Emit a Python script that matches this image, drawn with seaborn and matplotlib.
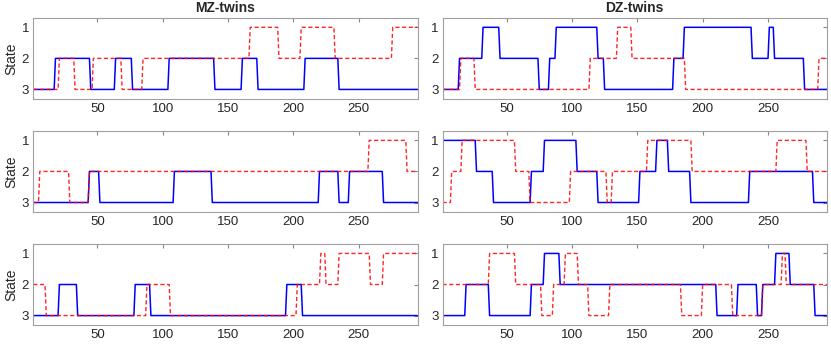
import numpy as np
import pandas as pd
import seaborn as sns
import matplotlib.pyplot as plt

T_END = 295

# change points (time where state starts) and states
# MZ pair 1
mz1_blue_t = [1, 18, 45, 64, 77, 105, 140, 161, 173, 209, 235]
mz1_blue_s = [3, 2, 3, 2, 3, 2, 3, 2, 3, 2, 3]
mz1_red_t = [1, 21, 33, 47, 69, 85, 167, 189, 206, 232, 276]
mz1_red_s = [3, 2, 3, 2, 3, 2, 1, 2, 1, 2, 1]
# MZ pair 2
mz2_blue_t = [1, 44, 52, 109, 138, 220, 235, 243, 269]
mz2_blue_s = [3, 2, 3, 2, 3, 2, 3, 2, 3]
mz2_red_t = [1, 6, 29, 44, 258, 287]
mz2_red_s = [3, 2, 3, 2, 1, 2]
# MZ pair 3
mz3_blue_t = [1, 21, 35, 79, 91, 195, 207]
mz3_blue_s = [3, 2, 3, 2, 3, 2, 3]
mz3_red_t = [1, 11, 88, 106, 203, 221, 225, 235, 259, 269]
mz3_red_s = [2, 3, 2, 3, 2, 1, 2, 1, 2, 1]
# DZ pair 1
dz1_blue_t = [1, 14, 32, 45, 75, 83, 88, 120, 125, 178, 186, 238, 251, 255, 278]
dz1_blue_s = [3, 2, 1, 2, 3, 2, 1, 2, 3, 2, 1, 2, 1, 2, 3]
dz1_red_t = [1, 15, 26, 114, 135, 146, 187, 289]
dz1_red_s = [3, 2, 3, 2, 1, 2, 3, 2]
# DZ pair 2
dz2_blue_t = [1, 27, 40, 69, 79, 104, 120, 152, 165, 174, 191, 236, 285]
dz2_blue_s = [1, 2, 3, 2, 1, 2, 3, 2, 1, 2, 3, 2, 3]
dz2_red_t = [1, 8, 16, 57, 68, 99, 127, 131, 158, 192, 257, 280]
dz2_red_s = [3, 2, 1, 2, 3, 2, 3, 2, 1, 2, 1, 2]
# DZ pair 3
dz3_blue_t = [1, 19, 37, 69, 79, 91, 211, 227, 242, 246, 256, 267, 286]
dz3_blue_s = [3, 2, 3, 2, 1, 2, 3, 2, 3, 2, 1, 2, 3]
dz3_red_t = [1, 37, 57, 77, 86, 95, 105, 113, 129, 184, 200, 223, 246, 261, 264]
dz3_red_s = [2, 1, 2, 3, 2, 1, 2, 3, 2, 3, 2, 3, 2, 1, 2]

panels = [
    [(mz1_blue_t, mz1_blue_s, mz1_red_t, mz1_red_s), (dz1_blue_t, dz1_blue_s, dz1_red_t, dz1_red_s)],
    [(mz2_blue_t, mz2_blue_s, mz2_red_t, mz2_red_s), (dz2_blue_t, dz2_blue_s, dz2_red_t, dz2_red_s)],
    [(mz3_blue_t, mz3_blue_s, mz3_red_t, mz3_red_s), (dz3_blue_t, dz3_blue_s, dz3_red_t, dz3_red_s)],
]
titles = ["MZ-twins", "DZ-twins"]


def expand(starts, states):
    # one state per time step from the change points
    lengths = np.diff(list(starts) + [T_END + 1])
    return pd.DataFrame({"t": np.arange(1, T_END + 1), "state": np.repeat(states, lengths)})


sns.set_style("white")
plt.rcParams['font.family'] = ['Liberation Sans', 'DejaVu Sans']

fig, axes = plt.subplots(3, 2, figsize=(8.31, 3.46), dpi=100)
fig.subplots_adjust(left=0.04, right=0.995, top=0.948, bottom=0.061, wspace=0.065, hspace=0.40)

for r in range(3):
    for c in range(2):
        ax = axes[r, c]
        bt, bs, rt, rs = panels[r][c]
        sns.lineplot(data=expand(bt, bs), x="t", y="state", ax=ax, color="#0000ff", lw=1.1)
        sns.lineplot(data=expand(rt, rs), x="t", y="state", ax=ax, color="#ff0000", lw=1.0,
                     linestyle=(0, (3, 1.8)), alpha=0.85)
        ax.set_xlim(1, T_END)
        ax.set_ylim(3.3, 0.7)
        ax.set_yticks([1, 2, 3])
        ax.set_xticks([50, 100, 150, 200, 250])
        ax.tick_params(direction="in", length=3, color="#888888", labelsize=9.5,
                       labelcolor="#262626", top=True, right=True, pad=3)
        for sp in ax.spines.values():
            sp.set_color("#a0a0a0")
            sp.set_linewidth(0.8)
        ax.set_xlabel("")
        ax.set_ylabel("State" if c == 0 else "", fontsize=10, color="#262626", labelpad=2)
        if r == 0:
            ax.set_title(titles[c], fontsize=10, fontweight="bold", pad=4)

fig.savefig("out.png", dpi=100)
